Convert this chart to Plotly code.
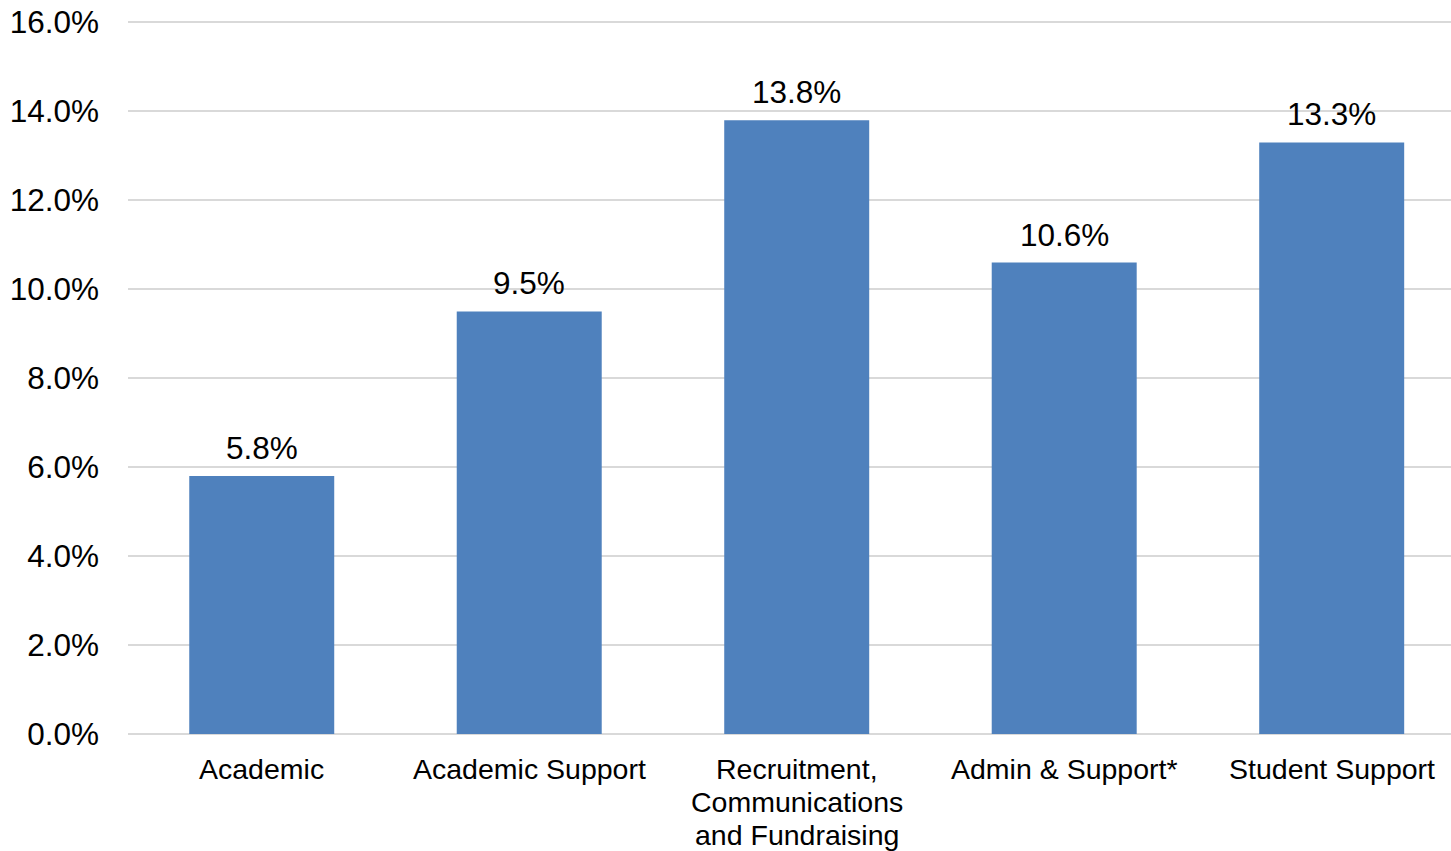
import plotly.graph_objects as go

categories = ["Academic", "Academic Support", "Recruitment,<br>Communications<br>and Fundraising",
              "Admin & Support*", "Student Support"]
values = [5.8, 9.5, 13.8, 10.6, 13.3]
tick_vals = [0, 2, 4, 6, 8, 10, 12, 14, 16]
tick_text = ["0.0%", "2.0%", "4.0%", "6.0%", "8.0%", "10.0%", "12.0%", "14.0%", "16.0%"]

FONT = "Liberation Sans, Arial, sans-serif"
x_pos = list(range(len(categories)))
LINE_GAP = 33
FIRST_LINE = 35

fig = go.Figure(go.Bar(
    x=x_pos,
    y=values,
    marker=dict(color="#4F81BD", line=dict(width=0)),
    cliponaxis=False,
))

for xi, v in zip(x_pos, values):
    fig.add_annotation(
        x=xi, y=v, text=f"{v:.1f}%", showarrow=False,
        xanchor="center", yanchor="bottom", yshift=8,
        font=dict(family=FONT, size=31.5, color="#000000"),
    )

# category labels (one annotation per line for tighter line spacing)
for xi, cat in zip(x_pos, categories):
    for j, line in enumerate(cat.split("<br>")):
        fig.add_annotation(
            x=xi, y=0, text=line, showarrow=False,
            xanchor="center", yanchor="middle",
            yshift=-(FIRST_LINE + j * LINE_GAP),
            font=dict(family=FONT, size=28.5, color="#000000"),
        )

fig.update_layout(
    width=1451, height=851,
    margin=dict(l=128, r=0, t=21, b=117, autoexpand=False),
    plot_bgcolor="white", paper_bgcolor="white",
    bargap=0.458,
    showlegend=False,
    font=dict(family=FONT, size=29, color="#000000"),
    xaxis=dict(
        tickmode="array",
        tickvals=x_pos,
        ticktext=["" for _ in categories],
        range=[-0.5, 4.446],
        showgrid=False, zeroline=False, showline=False,
        ticks="", automargin=False,
    ),
    yaxis=dict(
        range=[0, 16.03],
        tickmode="array",
        tickvals=tick_vals,
        ticktext=tick_text,
        showgrid=True, gridcolor="#D9D9D9", gridwidth=2,
        zeroline=True, zerolinecolor="#D9D9D9", zerolinewidth=2,
        showline=False, ticks="", automargin=False,
        ticklabelstandoff=28,
        tickfont=dict(family=FONT, size=31.5, color="#000000"),
    ),
)

fig.write_html("out.html")
